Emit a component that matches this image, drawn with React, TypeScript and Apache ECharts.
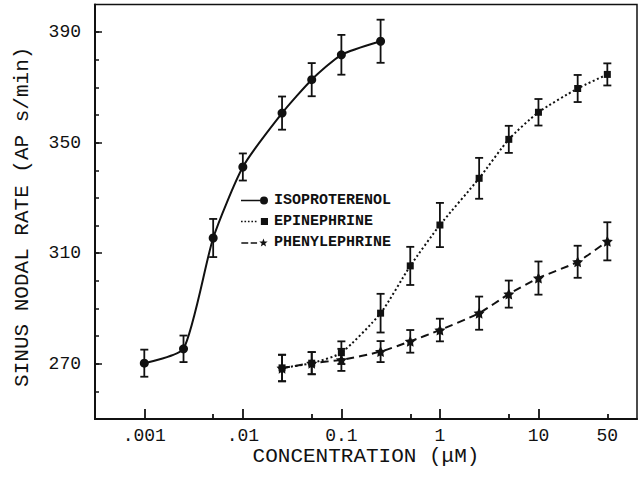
import React, { useEffect, useRef } from "react";
import * as echarts from "echarts";

// ---- data ----
const isoX = [0.001, 0.0025, 0.005, 0.01, 0.025, 0.05, 0.1, 0.25];
const isoY = [270.2, 275.4, 315.5, 341.2, 360.7, 372.8, 381.8, 386.7];
const isoErr = [4.9, 4.8, 6.9, 4.9, 6.0, 6.0, 7.2, 7.8];

const epiX = [0.025, 0.05, 0.1, 0.25, 0.5, 1, 2.5, 5, 10, 25, 50];
const epiY = [268.5, 270.2, 274.0, 288.3, 305.4, 320.2, 337.1, 351.2, 361.0, 369.6, 374.7];
const epiErr = [4.8, 4.0, 4.1, 7.0, 6.9, 8.0, 7.4, 4.9, 4.8, 4.9, 4.0];

const pheX = [0.025, 0.05, 0.1, 0.25, 0.5, 1, 2.5, 5, 10, 25, 50];
const pheY = [268.4, 270.2, 271.4, 274.4, 278.1, 282.2, 288.3, 295.2, 301.0, 306.9, 314.3];
const pheErr = [4.8, 4.0, 4.0, 3.8, 4.1, 4.1, 6.0, 4.9, 6.0, 5.8, 6.9];

const seriesNames = ["ISOPROTERENOL", "EPINEPHRINE", "PHENYLEPHRINE"];

const xTickValues = [0.001, 0.01, 0.1, 1, 10, 50];
const xTickLabels = [".001", ".01", "0.1", "1", "10", "50"];
const xMajorTicks = [0.001, 0.01, 0.1, 1, 10];
const xMinorTicks = [0.005, 0.05, 0.5, 5, 50];
const xMin = 0.000316;
const xMax = 100;

const yLabelValues = [270, 310, 350, 390];
const yMinorTicks = [260, 270, 280, 290, 300, 310, 320, 330, 340, 350, 360, 370, 380, 390];
const yMin = 250;
const yMax = 400;

const FONT = "Liberation Mono";
const INK = "#111";

const STAR =
  "path://M0,-10 L2.94,-4.05 L9.51,-3.09 L4.76,1.55 L5.88,8.09 L0,5 L-5.88,8.09 L-4.76,1.55 L-9.51,-3.09 L-2.94,-4.05 Z";

const ICON_ISO =
  "path://M0,3.3H19V4.7H0Z M19,4 A4,4 0 1,0 27,4 A4,4 0 1,0 19,4 Z";
const ICON_EPI =
  "path://M0,3.2H1.6V4.8H0Z M3.4,3.2H5V4.8H3.4Z M6.8,3.2H8.4V4.8H6.8Z M10.2,3.2H11.8V4.8H10.2Z M13.6,3.2H15.2V4.8H13.6Z M19.5,0.5H26.5V7.5H19.5Z";
const ICON_PHE =
  "path://M0,3.7H7V5.3H0Z M9.5,3.7H16V5.3H9.5Z M22.5,0 L23.62,2.96 L26.78,3.11 L24.31,5.09 L25.15,8.14 L22.5,6.4 L19.85,8.14 L20.69,5.09 L18.22,3.11 L21.38,2.96 Z";

const lg = (v: number) => Math.log10(v);

function errorSeries(xs: number[], ys: number[], es: number[]) {
  return {
    type: "custom",
    xAxisIndex: 0,
    yAxisIndex: 0,
    silent: true,
    z: 3,
    data: xs.map((x, i) => [x, ys[i], es[i]]),
    renderItem: (params: any, api: any) => {
      const x = api.value(0);
      const y = api.value(1);
      const e = api.value(2);
      const top = api.coord([x, y + e]);
      const bot = api.coord([x, y - e]);
      const w = 4;
      const st = { stroke: INK, lineWidth: 1.8 };
      return {
        type: "group",
        children: [
          { type: "line", shape: { x1: top[0], y1: top[1], x2: bot[0], y2: bot[1] }, style: st },
          { type: "line", shape: { x1: top[0] - w, y1: top[1], x2: top[0] + w, y2: top[1] }, style: st },
          { type: "line", shape: { x1: bot[0] - w, y1: bot[1], x2: bot[0] + w, y2: bot[1] }, style: st },
        ],
      };
    },
  };
}

export default function App() {
  const ref = useRef<HTMLDivElement>(null);

  useEffect(() => {
    if (!ref.current) return;
    const chart = echarts.init(ref.current, undefined, { renderer: "svg" });

    const labelFor = (v: number) => {
      for (let i = 0; i < xTickValues.length; i++) {
        if (Math.abs(lg(xTickValues[i]) - v) < 1e-6) return xTickLabels[i];
      }
      return "";
    };

    const option: any = {
      animation: false,
      backgroundColor: "#fff",
      textStyle: { fontFamily: FONT, color: INK },
      grid: {
        left: 95,
        right: 7,
        top: 4.5,
        bottom: 59,
        show: true,
        borderColor: INK,
        borderWidth: 1.5,
        backgroundColor: "transparent",
      },
      legend: {
        orient: "vertical",
        left: 236,
        top: 188,
        itemWidth: 27,
        itemHeight: 8,
        itemGap: 6,
        selectedMode: false,
        textStyle: {
          fontFamily: FONT,
          fontSize: 15,
          fontWeight: "bold",
          color: INK,
          lineHeight: 15,
          padding: [0, 0, 0, 1],
        },
        data: [
          { name: seriesNames[0], icon: ICON_ISO },
          { name: seriesNames[1], icon: ICON_EPI },
          { name: seriesNames[2], icon: ICON_PHE },
        ],
      },
      xAxis: [
        {
          type: "log",
          logBase: 10,
          min: xMin,
          max: xMax,
          position: "bottom",
          axisLine: { show: true, onZero: false, lineStyle: { color: INK, width: 2 } },
          axisTick: { show: false },
          axisLabel: { show: false },
          splitLine: { show: false },
          minorTick: { show: false },
          name: "CONCENTRATION (\u03bcM)",
          nameLocation: "middle",
          nameGap: 27,
          nameTextStyle: { fontFamily: FONT, fontSize: 21, color: INK },
        },
        {
          type: "value",
          min: lg(xMin),
          max: lg(xMax),
          position: "bottom",
          axisLine: { show: false, onZero: false },
          axisTick: {
            show: true,
            inside: true,
            length: 10,
            customValues: xMajorTicks.map(lg),
            lineStyle: { color: INK, width: 1.8 },
          },
          axisLabel: {
            show: true,
            customValues: xTickValues.map(lg),
            formatter: (v: number) => labelFor(v),
            fontFamily: FONT,
            fontSize: 18,
            color: INK,
            margin: 8,
          },
          splitLine: { show: false },
        },
        {
          type: "value",
          min: lg(xMin),
          max: lg(xMax),
          position: "bottom",
          axisLine: { show: false, onZero: false },
          axisTick: {
            show: true,
            inside: true,
            length: 5,
            customValues: xMinorTicks.map(lg),
            lineStyle: { color: INK, width: 1.8 },
          },
          axisLabel: { show: false },
          splitLine: { show: false },
        },
      ],
      yAxis: [
        {
          type: "value",
          min: yMin,
          max: yMax,
          position: "left",
          axisLine: { show: true, onZero: false, lineStyle: { color: INK, width: 2 } },
          axisTick: {
            show: true,
            inside: true,
            length: 4,
            customValues: yMinorTicks,
            lineStyle: { color: INK, width: 1.5 },
          },
          axisLabel: {
            show: true,
            customValues: yLabelValues,
            fontFamily: FONT,
            fontSize: 18,
            color: INK,
            margin: 14,
          },
          splitLine: { show: false },
          name: "SINUS NODAL RATE (AP s/min)",
          nameLocation: "middle",
          nameGap: 62,
          nameTextStyle: { fontFamily: FONT, fontSize: 21, color: INK, padding: [0, 10, 0, 0] },
        },
        {
          type: "value",
          min: yMin,
          max: yMax,
          position: "left",
          axisLine: { show: false, onZero: false },
          axisTick: {
            show: true,
            inside: true,
            length: 7,
            customValues: yLabelValues,
            lineStyle: { color: INK, width: 1.5 },
          },
          axisLabel: { show: false },
          splitLine: { show: false },
        },
      ],
      series: [
        {
          name: seriesNames[0],
          type: "line",
          xAxisIndex: 0,
          yAxisIndex: 0,
          data: isoX.map((x, i) => [x, isoY[i]]),
          smooth: 0.2,
          symbol: "circle",
          symbolSize: 9,
          itemStyle: { color: INK },
          lineStyle: { color: INK, width: 2, type: "solid" },
          z: 4,
        },
        {
          name: seriesNames[1],
          type: "line",
          xAxisIndex: 0,
          yAxisIndex: 0,
          data: epiX.map((x, i) => [x, epiY[i]]),
          smooth: 0.2,
          symbol: "rect",
          symbolSize: 7,
          itemStyle: { color: INK },
          lineStyle: { color: INK, width: 2, type: [2, 2.5] },
          z: 4,
        },
        {
          name: seriesNames[2],
          type: "line",
          xAxisIndex: 0,
          yAxisIndex: 0,
          data: pheX.map((x, i) => [x, pheY[i]]),
          smooth: 0.2,
          symbol: STAR,
          symbolSize: 11,
          itemStyle: { color: INK },
          lineStyle: { color: INK, width: 2, type: [8, 5] },
          z: 4,
        },
        errorSeries(isoX, isoY, isoErr),
        errorSeries(epiX, epiY, epiErr),
        errorSeries(pheX, pheY, pheErr),
      ],
    };

    chart.setOption(option);
    return () => {
      chart.dispose();
    };
  }, []);

  return (
    <div
      ref={ref}
      style={{ position: "absolute", left: 0, top: 0, width: 644, height: 478, background: "#fff" }}
    />
  );
}
